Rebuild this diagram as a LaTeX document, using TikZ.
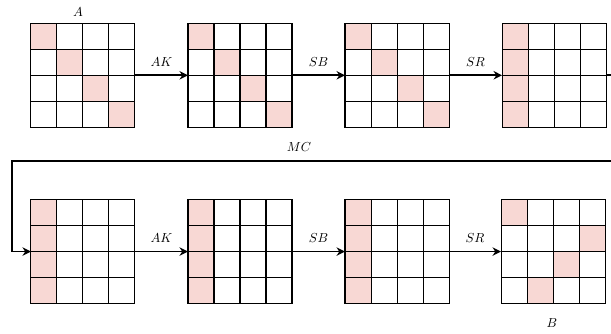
\documentclass[tikz,border=0pt]{standalone}
\usepackage{amsmath}
\usepackage{tikz}
\usetikzlibrary{arrows.meta,calc}

\definecolor{cellpink}{RGB}{248,216,212}

\begin{document}
\begin{tikzpicture}[x=0.7cm,y=0.7cm]
            \tikzstyle{state}=[minimum size=2.8cm, inner sep=0pt, outer sep=0pt]
            \tikzstyle{flow}=[black, line width=1.4pt, -{Stealth[length=6.5pt,width=6.5pt]}]
            \useasboundingbox (0,0) rectangle (23.5,12.846);
            \foreach \n/\x/\y/\cells in {g1/3.19/9.95/{0/0,1/1,2/2,3/3},
                                         g2/9.23/9.95/{0/0,1/1,2/2,3/3},
                                         g3/15.27/9.95/{0/0,1/1,2/2,3/3},
                                         g4/21.31/9.95/{0/0,0/1,0/2,0/3},
                                         g5/3.19/3.17/{0/0,0/1,0/2,0/3},
                                         g6/9.23/3.17/{0/0,0/1,0/2,0/3},
                                         g7/15.27/3.17/{0/0,0/1,0/2,0/3},
                                         g8/21.27/3.17/{0/0,3/1,2/2,1/3}} {
              \node [state] (\n) at (\x,\y) {};
              \foreach \c/\r in \cells
                \fill [cellpink] ($(\n.north west)+(\c,-\r)$) rectangle ++(1,-1);
              \foreach \i in {1,2,3} {
                \draw [black, thick] ($(\n.north west)+(\i,0)$) -- ++(0,-4);
                \draw [black, thick] ($(\n.north west)+(0,-\i)$) -- ++(4,0);
              }
              \draw [black, thick] (\n.north west) rectangle (\n.south east);
            }
            \draw (3.0,12.38) node (lblA) {$A$};
            \draw (21.23,0.42) node (lblB) {$B$};
            \draw [flow] (g1.east) -- (g2.west) node [midway, above=3pt] {$AK$};
            \draw [flow] (g2.east) -- (g3.west) node [midway, above=3pt] {$SB$};
            \draw [flow] (g3.east) -- (g4.west) node [midway, above=3pt] {$SR$};
            \coordinate (turnr) at (24.2,6.654);
            \coordinate (turnl) at (0.46,6.654);
            \draw [flow] (g4.east) -| (turnr) -- node [pos=0.535, above=3pt] {$MC$} (turnl) |- (g5.west);
            \draw [flow] (g5.east) -- (g6.west) node [midway, above=3pt] {$AK$};
            \draw [flow] (g6.east) -- (g7.west) node [midway, above=3pt] {$SB$};
            \draw [flow] (g7.east) -- (g8.west) node [midway, above=3pt] {$SR$};
\end{tikzpicture}
\end{document}
